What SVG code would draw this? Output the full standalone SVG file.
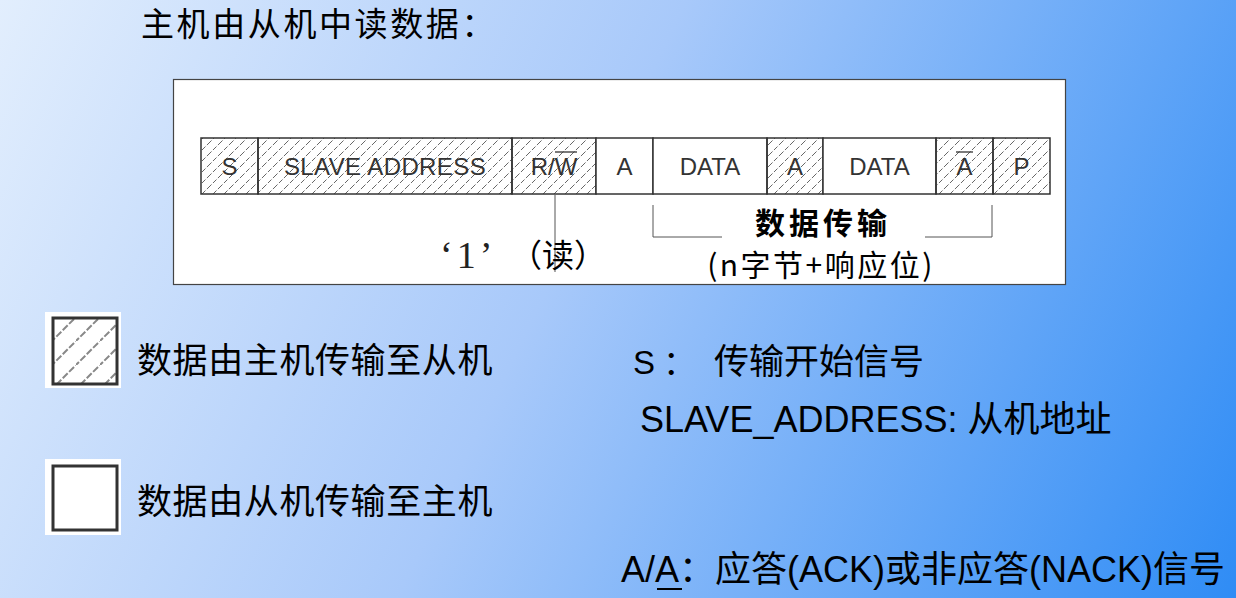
<svg xmlns="http://www.w3.org/2000/svg" width="1236" height="598" viewBox="0 0 1236 598">
<defs>
<linearGradient id="bg" x1="0" y1="0" x2="1236" y2="598" gradientUnits="userSpaceOnUse">
<stop offset="0" stop-color="#e2eefd"/>
<stop offset="0.45" stop-color="#a8c9fa"/>
<stop offset="1" stop-color="#2f8cf5"/>
</linearGradient>
<pattern id="hatch" patternUnits="userSpaceOnUse" width="11" height="11">
<line x1="-1" y1="12" x2="12" y2="-1" stroke="#555" stroke-width="0.9" stroke-dasharray="5 2"/>
</pattern>
<pattern id="hatchBig" patternUnits="userSpaceOnUse" width="24" height="24" x="52" y="317">
<line x1="-2" y1="26" x2="26" y2="-2" stroke="#888" stroke-width="2" stroke-dasharray="7 2"/>
</pattern>
<style>
.cell{stroke:#333;stroke-width:1.5}
.h{fill:url(#hatch)}
.w{fill:#fff}
.ct{font-family:"Liberation Sans",Arial,sans-serif;font-size:24px;fill:#333;text-anchor:middle}
.cjk{font-family:"Noto Sans CJK SC",sans-serif;fill:#000}
.lat{font-family:"Liberation Sans","Noto Sans CJK SC",sans-serif;fill:#000}
.gl{stroke:#555;stroke-width:1;fill:none}
</style>
</defs>
<rect width="1236" height="598" fill="url(#bg)"/>

<g id="title">
<text class="cjk" x="141" y="36" font-size="33" letter-spacing="2.6">主机由从机中读数据：</text>
</g>

<g id="frame">
<rect x="173.5" y="79.5" width="892" height="205" fill="#fff" stroke="#444" stroke-width="1.2"/>
</g>

<g id="cells">
<g id="cell-S"><rect class="cell h" x="201" y="138" width="57" height="56"/><text class="ct" x="229.5" y="175">S</text></g>
<g id="cell-addr"><rect class="cell h" x="258" y="138" width="254" height="56"/><text class="ct" x="385" y="175" letter-spacing="0.4">SLAVE ADDRESS</text></g>
<g id="cell-rw"><rect class="cell h" x="512" y="138" width="84" height="56"/><text class="ct" x="554" y="175">R/W</text><line x1="555" y1="152" x2="577" y2="152" stroke="#333" stroke-width="1.3"/></g>
<g id="cell-A1"><rect class="cell w" x="596" y="138" width="57" height="56"/><text class="ct" x="624.5" y="175">A</text></g>
<g id="cell-D1"><rect class="cell w" x="653" y="138" width="114" height="56"/><text class="ct" x="710" y="175">DATA</text></g>
<g id="cell-A2"><rect class="cell h" x="767" y="138" width="56" height="56"/><text class="ct" x="795" y="175">A</text></g>
<g id="cell-D2"><rect class="cell w" x="823" y="138" width="113" height="56"/><text class="ct" x="879.5" y="175">DATA</text></g>
<g id="cell-NA"><rect class="cell h" x="936" y="138" width="57" height="56"/><text class="ct" x="964.5" y="175">A</text><line x1="956" y1="152" x2="973" y2="152" stroke="#333" stroke-width="1.3"/></g>
<g id="cell-P"><rect class="cell h" x="993" y="138" width="57" height="56"/><text class="ct" x="1021.5" y="175">P</text></g>
</g>

<g id="connectors">
<line class="gl" x1="555" y1="195" x2="555" y2="272"/>
<polyline class="gl" points="653,205 653,237 722,237"/>
<polyline class="gl" points="925,237 992,237 992,205"/>
</g>

<g id="annot-read">
<text x="440" y="268" font-family="Liberation Serif,serif" font-size="38" letter-spacing="4" fill="#222">‘1’</text>
<text class="cjk" x="510" y="267" font-size="32" fill="#222">（读）</text>
</g>
<g id="annot-data">
<text class="cjk" x="823" y="234" font-size="30" font-weight="bold" letter-spacing="4" text-anchor="middle" fill="#222">数据传输</text>
<text class="cjk" x="821" y="276" font-size="30" letter-spacing="2.5" text-anchor="middle" fill="#222">(n字节+响应位)</text>
</g>

<g id="legend-hatched">
<rect x="45" y="312" width="76" height="76" fill="#fff"/>
<rect x="53" y="318" width="64" height="66" fill="url(#hatchBig)" stroke="#333" stroke-width="3"/>
<text class="cjk" x="137" y="373" font-size="35" letter-spacing="0.6">数据由主机传输至从机</text>
</g>
<g id="legend-white">
<rect x="45" y="459" width="76" height="76" fill="#fff"/>
<rect x="53" y="466" width="64" height="64" fill="#fff" stroke="#333" stroke-width="3"/>
<text class="cjk" x="137" y="514" font-size="35" letter-spacing="0.6">数据由从机传输至主机</text>
</g>

<g id="legend-S">
<text class="lat" x="633" y="374" font-size="33">S<tspan dx="8">：</tspan></text>
<text class="cjk" x="714" y="374" font-size="35">传输开始信号</text>
</g>
<g id="legend-addr">
<text class="lat" x="640" y="432" font-size="36">SLAVE_ADDRESS: <tspan font-family="Noto Sans CJK SC,sans-serif">从机地址</tspan></text>
</g>
<g id="legend-ack">
<text class="lat" x="621" y="582" font-size="36">A/A<tspan font-family="Noto Sans CJK SC,sans-serif">：应答</tspan>(ACK)<tspan font-family="Noto Sans CJK SC,sans-serif">或非应答</tspan>(NACK)<tspan font-family="Noto Sans CJK SC,sans-serif">信号</tspan></text>
<line x1="657" y1="589" x2="682" y2="589" stroke="#000" stroke-width="2"/>
</g>
</svg>
